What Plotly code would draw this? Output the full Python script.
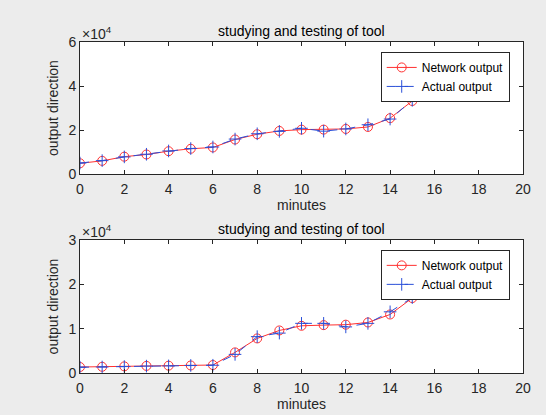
import plotly.graph_objects as go

minutes = list(range(17))
net_top = [4900, 6000, 7900, 8900, 10400, 11500, 12100, 15700, 18100, 19600, 20200, 20200, 20500, 21400, 25400, 33200, 36900]
act_top = [5000, 6100, 7800, 9000, 10500, 11600, 12300, 15900, 18300, 19400, 20800, 19500, 20500, 22400, 25000, 33500, 37300]
net_bot = [1350, 1400, 1500, 1600, 1650, 1700, 1800, 4650, 7800, 9600, 10650, 10800, 10900, 11400, 13200, 16900, 18600]
act_bot = [1300, 1350, 1450, 1550, 1600, 1700, 1750, 4200, 8200, 9000, 11200, 11200, 10400, 11200, 13800, 17000, 18900]

x_ticks = [0, 2, 4, 6, 8, 10, 12, 14, 16, 18, 20]
top_ticks = [0, 20000, 40000, 60000]
top_ticktext = ["0", "2", "4", "6"]
bot_ticks = [0, 10000, 20000, 30000]
bot_ticktext = ["0", "1", "2", "3"]

title_text = "studying and testing of tool"
xlab = "minutes"
ylab = "output direction"

axc = "#262626"
fig = go.Figure()

def add_pair(net, act, xa, ya, legend):
    fig.add_trace(go.Scatter(x=minutes, y=net, mode="lines+markers", name="Network output",
                             line=dict(color="#ff3030", width=1),
                             marker=dict(symbol="circle-open", size=9, color="#ff3030", line=dict(width=1)),
                             xaxis=xa, yaxis=ya, legend=legend))
    fig.add_trace(go.Scatter(x=minutes, y=act, mode="lines+markers", name="Actual output",
                             line=dict(color="#2a4fd8", width=1, dash="dash"),
                             marker=dict(symbol="cross-thin-open", size=9, color="#2a4fd8", line=dict(width=1, color="#2a4fd8")),
                             xaxis=xa, yaxis=ya, legend=legend))

add_pair(net_top, act_top, "x", "y", "legend")
add_pair(net_bot, act_bot, "x2", "y2", "legend2")

font = dict(family="Liberation Sans, Arial, sans-serif", size=13, color=axc)

def xaxis(domain_anchor):
    return dict(range=[0, 20], tickvals=x_ticks, ticks="inside", ticklen=4, tickcolor=axc,
                showline=True, linecolor=axc, linewidth=1, mirror="ticks", showgrid=False, zeroline=False,
                anchor=domain_anchor, tickfont=dict(size=14, color=axc), automargin=False,
                ticklabelstandoff=2,
                title=dict(text=xlab, font=dict(size=14, color=axc), standoff=4))

def yaxis(domain, rng, tv, tt, anchor):
    return dict(domain=domain, range=rng, tickvals=tv, ticktext=tt, ticks="inside", ticklen=4, tickcolor=axc,
                showline=True, linecolor=axc, linewidth=1, mirror="ticks", showgrid=False, zeroline=False,
                anchor=anchor, tickfont=dict(size=14, color=axc), automargin=False,
                title=dict(text=ylab, font=dict(size=14, color=axc), standoff=6))

leg_common = dict(bgcolor="white", bordercolor="#262626", borderwidth=1, font=dict(size=12, color="black"),
                  xanchor="right", yanchor="top", tracegroupgap=0, itemwidth=30)

fig.update_layout(
    width=546, height=415,
    margin=dict(l=80, r=23, t=42, b=42),
    paper_bgcolor="#ececec", plot_bgcolor="white",
    font=font,
    showlegend=True,
    xaxis=xaxis("y"),
    yaxis=yaxis([0.601, 1.0], [0, 60000], top_ticks, top_ticktext, "x"),
    xaxis2=xaxis("y2"),
    yaxis2=yaxis([0.0, 0.4018], [0, 30000], bot_ticks, bot_ticktext, "x2"),
    legend=dict(x=0.97, y=0.97, **leg_common),
    legend2=dict(x=0.97, y=0.372, **leg_common),
    annotations=[
        dict(text=title_text, x=0.5, y=1.0, xref="paper", yref="paper", xanchor="center", yanchor="bottom",
             showarrow=False, font=dict(size=14, color="black"), yshift=1),
        dict(text=title_text, x=0.5, y=0.4018, xref="paper", yref="paper", xanchor="center", yanchor="bottom",
             showarrow=False, font=dict(size=14, color="black"), yshift=1),
        dict(text="×10<sup>4</sup>", x=0, y=1.0, xref="paper", yref="paper", xanchor="left", yanchor="bottom",
             showarrow=False, font=dict(size=14, color=axc), yshift=-2),
        dict(text="×10<sup>4</sup>", x=0, y=0.4018, xref="paper", yref="paper", xanchor="left", yanchor="bottom",
             showarrow=False, font=dict(size=14, color=axc), yshift=-2),
    ],
)

fig.write_html("out.html")
